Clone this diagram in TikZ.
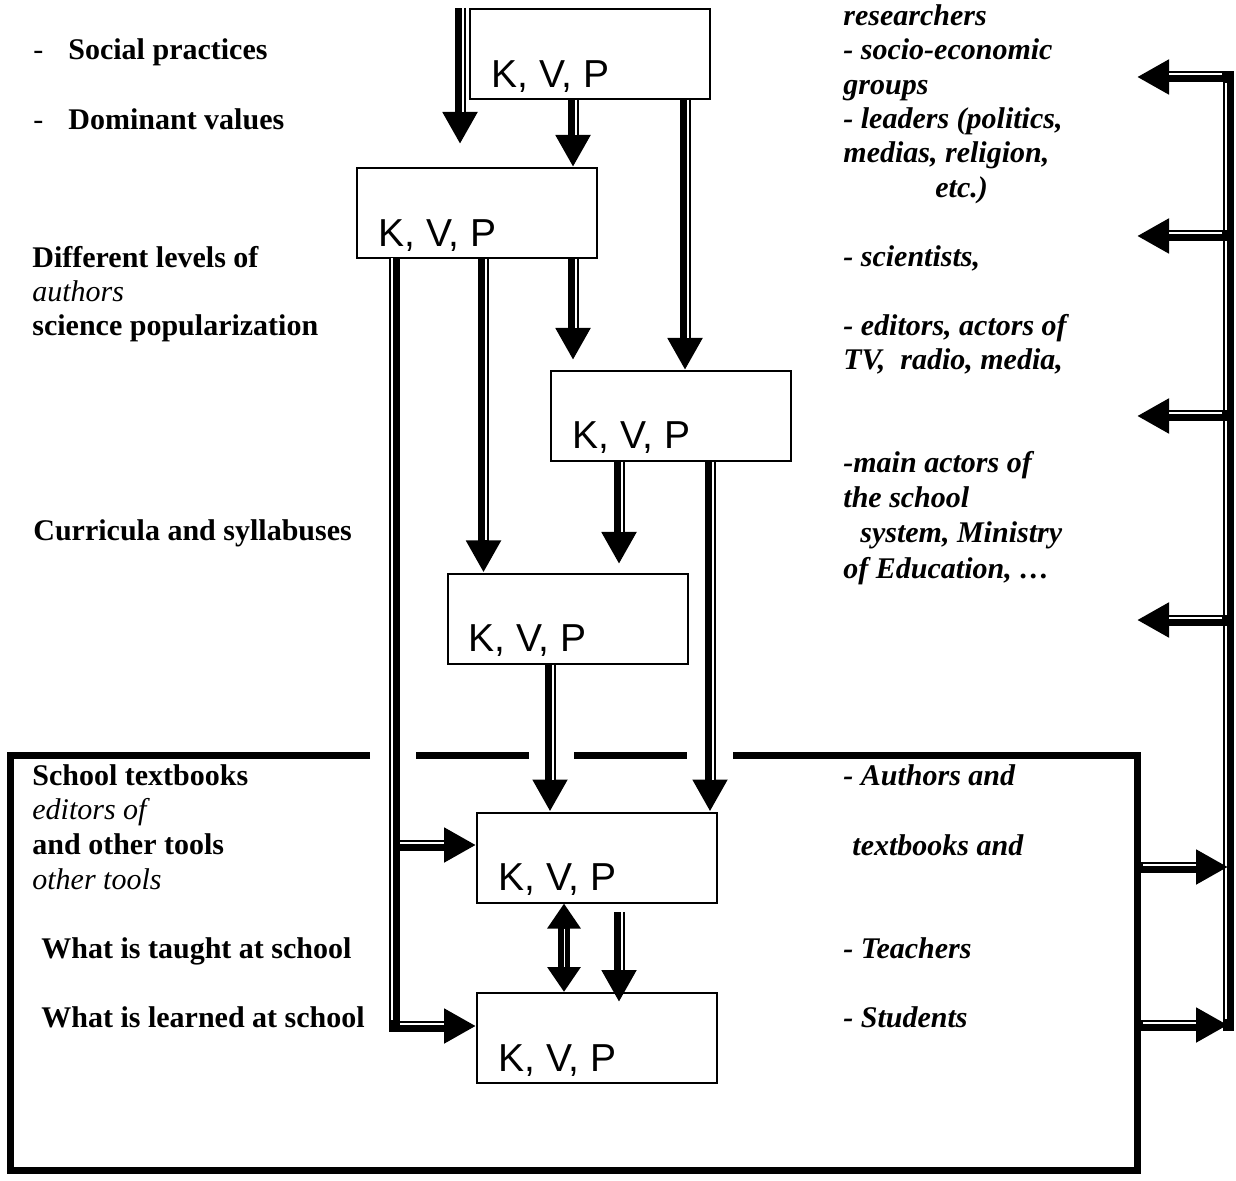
\documentclass[tikz,border=0pt]{standalone}
\usepackage{fontspec}
\setmainfont{Liberation Serif}
\newfontfamily\kvpfont{Liberation Sans}
\usetikzlibrary{arrows.meta}

\tikzset{
  box/.style={draw, line width=1pt, minimum width=120pt, minimum height=45pt, inner sep=0pt},
  kvp/.style={anchor=base west, inner sep=0pt, font=\kvpfont\fontsize{19.5pt}{23pt}\selectfont},
  level/.style={anchor=base west, inner sep=0pt, font=\fontsize{15pt}{17pt}\selectfont\bfseries},
  levelit/.style={anchor=base west, inner sep=0pt, font=\fontsize{15pt}{17pt}\selectfont\itshape},
  actor/.style={anchor=base west, inner sep=0pt, font=\fontsize{15pt}{17pt}\selectfont\bfseries\itshape},
  flow/.style={line width=5.5pt, -{Triangle[width=16.5pt,length=16pt]}},
  both/.style={line width=6pt, {Triangle[width=16pt,length=12.5pt]}-{Triangle[width=16pt,length=12.5pt]}},
  gap/.style={draw=white, line width=1pt},
  frame/.style={line width=3.5pt},
}

% down arrow: thick line left, thin line right
\newcommand{\flowdown}[2]{%
  \draw[flow] (#1) -- (#2);
  \draw[gap, shorten >=16pt, transform canvas={xshift=1.25pt}] (#1) -- (#2);}
% side arrow: thin line on top, thick line below
\newcommand{\flowside}[2]{%
  \draw[flow] (#1) -- (#2);
  \draw[gap, shorten <=3pt, shorten >=16pt, transform canvas={yshift=1.25pt}] (#1) -- (#2);}

\begin{document}
\begin{tikzpicture}[x=0.5pt, y=-0.5pt]
\useasboundingbox (0,0) rectangle (1236,1181);

% the K, V, P boxes
\node[box] (b1) at (589.5,54) {};
\node[box] (b2) at (476.5,213) {};
\node[box] (b3) at (670.5,416) {};
\node[box] (b4) at (567.5,618.5) {};
\node[box] (b5) at (597,857.5) {};
\node[box] (b6) at (597,1038) {};
\node[kvp] (k1) at (491,88) {K, V, P};
\node[kvp] (k2) at (378,247) {K, V, P};
\node[kvp] (k3) at (572,449) {K, V, P};
\node[kvp] (k4) at (468,651) {K, V, P};
\node[kvp] (k5) at (498,890) {K, V, P};
\node[kvp] (k6) at (498,1071) {K, V, P};

% school frame
\coordinate (fnw) at (10,755);
\coordinate (fne) at (1137,755);
\coordinate (fse) at (1137,1170);
\coordinate (fsw) at (10,1170);
\draw[frame] (370,755) -- (fnw) -- (fsw) -- (fse) -- (fne) -- (733,755);
\draw[frame, dash pattern=on 56.5pt off 22.5pt] (416,755) -- (687,755);

% columns of the arrows
\coordinate (xa) at (460,0);
\coordinate (xb) at (573,0);
\coordinate (xc) at (685,0);
\coordinate (xd) at (483.5,0);
\coordinate (xe) at (619,0);
\coordinate (xf) at (710,0);
\coordinate (xg) at (550,0);
\coordinate (xh) at (564,0);
\coordinate (a1end) at (460,144);
\coordinate (a4end) at (573,360);
\coordinate (a7end) at (619,564);
\coordinate (a11top) at (619,912);
\coordinate (a11end) at (619,1002);

\flowdown{xa |- b1.north}{a1end}
\flowdown{xb |- b1.south}{xb |- b2.north}
\flowdown{xc |- b1.south}{xc |- b3.north}
\flowdown{xb |- b2.south}{a4end}
\flowdown{xd |- b2.south}{xd |- b4.north}
\flowdown{xe |- b3.south}{a7end}
\flowdown{xf |- b3.south}{xf |- b5.north}
\flowdown{xg |- b4.south}{xg |- b5.north}
\flowdown{a11top}{a11end}
\draw[both] (xh |- b5.south) -- (xh |- b6.north);
\draw[gap, line width=0.5pt, shorten <=12.5pt, shorten >=12.5pt] (xh |- b5.south) -- (xh |- b6.north);

% left line into the school boxes
\coordinate (ltop) at (394,258);
\coordinate (lmid) at (394,845);
\coordinate (lknee) at (394,1026);
\draw[flow] (ltop) -- (lknee) -- (lknee -| b6.west);
\draw[gap, shorten >=3pt, transform canvas={xshift=-1.25pt}] (ltop) -- (lknee);
\draw[gap, shorten <=3pt, shorten >=16pt, transform canvas={yshift=1.25pt}] (lknee) -- (lknee -| b6.west);
\flowside{lmid}{lmid -| b5.west}

% right feedback line
\coordinate (rtop) at (1228,77);
\coordinate (rbot) at (1228,1031);
\coordinate (rout2) at (1228,236);
\coordinate (rout3) at (1228,416);
\coordinate (rout4) at (1228,620);
\coordinate (rin1) at (1228,867);
\coordinate (rin2) at (1228,1025);
\draw[flow] (rbot) -- (rtop) -- (rtop -| fne);
\draw[gap, shorten <=6pt, shorten >=3pt, transform canvas={xshift=-1.25pt}] (rbot) -- (rtop);
\draw[gap, shorten <=3pt, shorten >=16pt, transform canvas={yshift=1.25pt}] (rtop) -- (rtop -| fne);
\flowside{rout2}{rout2 -| fne}
\flowside{rout3}{rout3 -| fne}
\flowside{rout4}{rout4 -| fne}
\flowside{rin1 -| fne}{rin1}
\flowside{rin2 -| fne}{rin2}

% levels
\node[level] (dash1) at (33,60) {\mdseries -};
\node[level] (social) at (68,60) {Social practices};
\node[level] (dash2) at (33,130) {\mdseries -};
\node[level] (dominant) at (68,130) {Dominant values};
\node[level] (levels) at (32,268) {Different levels of};
\node[levelit] (authors) at (32,302) {authors};
\node[level] (popular) at (32,336) {science popularization};
\node[level] (curricula) at (33,540) {Curricula and syllabuses};
\node[level] (textbooks) at (32,785) {School textbooks};
\node[levelit] (editors) at (32,819) {editors of};
\node[level] (tools) at (32,854) {and other tools};
\node[levelit] (othertools) at (32,889) {other tools};
\node[level] (taught) at (41,958) {What is taught at school};
\node[level] (learned) at (41,1027) {What is learned at school};

% actors
\node[actor] (researchers) at (843,26) {researchers};
\node[actor] (socio) at (843,60) {- socio-economic};
\node[actor] (groups) at (843,95) {groups};
\node[actor] (leaders) at (843,129) {- leaders (politics,};
\node[actor] (medias) at (843,163) {medias, religion,};
\node[actor] (etc) at (935,198) {etc.)};
\node[actor] (scientists) at (843,267) {- scientists,};
\node[actor] (edit) at (843,336) {- editors, actors of};
\node[actor] (tv) at (843,370) {TV,\ \ radio, media,};
\node[actor] (main) at (843,473) {-main actors of};
\node[actor] (theschool) at (843,508) {the school};
\node[actor] (system) at (860,543) {system, Ministry};
\node[actor] (education) at (843,578) {of Education, …};
\node[actor] (authorsand) at (843,785) {- Authors and};
\node[actor] (textbooksand) at (852,855) {textbooks and};
\node[actor] (teachers) at (843,958) {- Teachers};
\node[actor] (students) at (843,1027) {- Students};
\end{tikzpicture}
\end{document}
